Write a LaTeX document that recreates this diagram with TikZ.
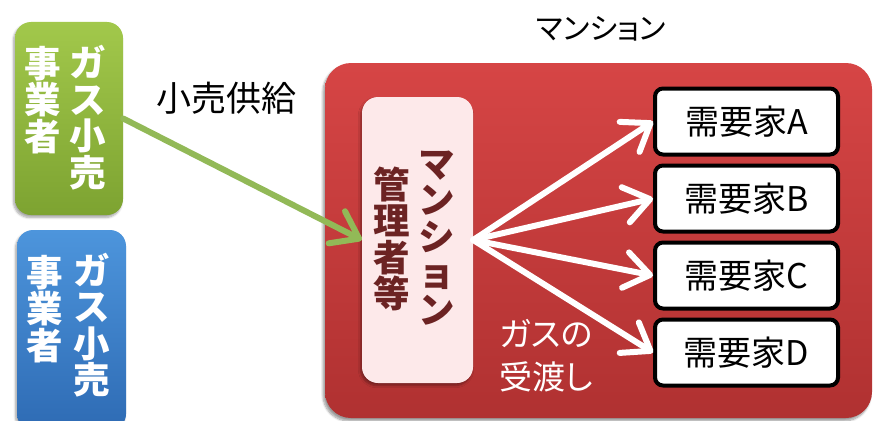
\documentclass[tikz,border=0pt]{standalone}
\usepackage{fontspec}
\setmainfont{Noto Sans CJK JP}
\newfontfamily\jp{Noto Sans CJK JP}
\newfontfamily\jpp[RawFeature=+palt]{Noto Sans CJK JP}
\usetikzlibrary{arrows.meta,shadows.blur}
\definecolor{gtop}{HTML}{A2C84B}
\definecolor{gbot}{HTML}{7DA331}
\definecolor{btop}{HTML}{4D95DC}
\definecolor{bbot}{HTML}{2E6BB4}
\definecolor{rtop}{HTML}{D64545}
\definecolor{rbot}{HTML}{B03131}
\definecolor{pinkfill}{HTML}{FDE9EA}
\definecolor{darkred}{HTML}{6C2323}
\definecolor{garrow}{HTML}{92B957}
\tikzset{
  sidebox/.style={rectangle, rounded corners=16pt, inner sep=0pt,
    blur shadow={shadow xshift=-1.5pt, shadow yshift=-2.5pt, shadow blur steps=6, shadow opacity=35}},
  vcol/.style={inner sep=0pt, align=center, font=\jp\bfseries\fontsize{36.5}{36.5}\selectfont},
  custbox/.style={rectangle, rounded corners=8pt, draw=black, line width=4pt, fill=white,
    minimum width=183pt, minimum height=66pt, inner sep=0pt,
    font=\jp\fontsize{34}{36}\selectfont},
  flow/.style={line width=6pt, line cap=round,
    -{Straight Barb[length=25pt, width=36pt, line cap=round, line join=round]}},
}
\begin{document}
\begin{tikzpicture}[x=1pt,y=-1pt]
\useasboundingbox (0,0) rectangle (874,420);

% left boxes
\node[sidebox, top color=gtop, bottom color=gbot, minimum width=108pt, minimum height=193pt] (g) at (69,118.5) {};
\node[sidebox, top color=btop, bottom color=bbot, minimum width=109pt, minimum height=200pt] (b) at (71.5,330) {};
\node[vcol, white] (g1) at (88,117.5) {ガ\\ス\\小\\売};
\node[vcol, white] (g2) at (43,100) {事\\業\\者};
\node[vcol, white] (b1) at (92,325) {ガ\\ス\\小\\売};
\node[vcol, white] (b2) at (45,309) {事\\業\\者};

% labels
\node[font=\jp\fontsize{35}{38}\selectfont, inner sep=0pt] (lab1) at (226,98) {小売供給};
\node[font=\jpp\fontsize{30}{34}\selectfont, inner sep=0pt] (lab2) at (601,29) {マンション};

% mansion box
\node[rectangle, rounded corners=26pt, top color=rtop, bottom color=rbot, minimum width=547pt, minimum height=355pt, inner sep=0pt,
  blur shadow={shadow xshift=-2pt, shadow yshift=-3pt, shadow blur steps=8, shadow opacity=40}] (m) at (598.5,240.5) {};
\node[sidebox, fill=pinkfill, minimum width=111pt, minimum height=286pt] (p) at (417.5,240) {};
\node[vcol, darkred] (p1) at (437,238) {マ\\ン\\シ\\ョ\\ン};
\node[vcol, darkred] (p2) at (392,239) {管\\理\\者\\等};

% customers
\node[custbox] (cA) at (746.5,121.5) {需要家A};
\node[custbox] (cB) at (746.5,198.5) {需要家B};
\node[custbox] (cC) at (746.5,275.5) {需要家C};
\node[custbox] (cD) at (746.5,352.5) {需要家D};

\node[font=\jpp\fontsize{33}{43}\selectfont, white, align=center, inner sep=0pt] (hand) at (546,356) {ガスの\\受渡し};

% connectors
\draw[flow, garrow] (g.east) -- (p.west);
\draw[flow, white] (p.east) -- (cA.west);
\draw[flow, white] (p.east) -- (cB.west);
\draw[flow, white] (p.east) -- (cC.west);
\draw[flow, white] (p.east) -- (cD.west);
\end{tikzpicture}
\end{document}
